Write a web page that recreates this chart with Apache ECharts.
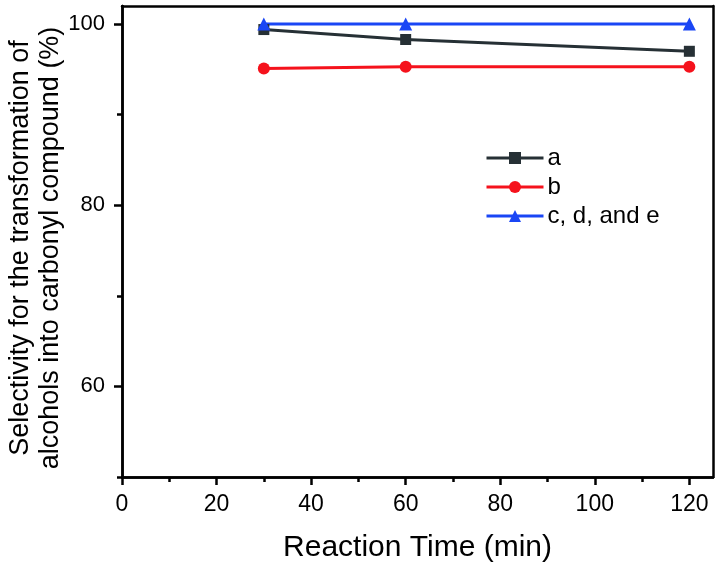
<!DOCTYPE html>
<html>
<head>
<meta charset="utf-8">
<script src="https://cdn.jsdelivr.net/npm/echarts@6/dist/echarts.min.js"></script>
<style>html,body{margin:0;padding:0;background:#fff}#c{width:720px;height:564px}</style>
</head>
<body>
<div id="c"></div>
<script>
const times = [30, 60, 120];
const seriesA = [99.4, 98.3, 97.0];
const seriesB = [95.1, 95.3, 95.3];
const seriesCDE = [100, 100, 100];
const seriesNames = ['a', 'b', 'c, d, and e'];
const xMajorTicks = [0, 20, 40, 60, 80, 100, 120];
const xMinorTicks = [10, 30, 50, 70, 90, 110];
const yMajorTicks = [60, 80, 100];
const yMinorTicks = [50, 70, 90];

const FONT = 'Liberation Sans, Arial, sans-serif';
const AXC = '#000';
const chart = echarts.init(document.getElementById('c'), null, {renderer: 'canvas'});

function pair(xs, ys) { return xs.map((x, i) => [x, ys[i]]); }

const xBase = {
  type: 'value', min: 0, max: 125,
  axisLine: {onZero: false, lineStyle: {color: AXC, width: 2.5}},
  splitLine: {show: false}
};
const yBase = {
  type: 'value', min: 50, max: 102,
  axisLine: {onZero: false, lineStyle: {color: AXC, width: 2.5}},
  splitLine: {show: false}
};

const option = {
  animation: false,
  backgroundColor: '#fff',
  grid: {left: 122, right: 7, top: 6, bottom: 87, show: false, containLabel: false, outerBoundsMode: 'none'},
  legend: {
    data: seriesNames,
    orient: 'vertical',
    left: 480, top: 141,
    itemWidth: 57, itemHeight: 15, itemGap: 5,
    lineStyle: {width: 3},
    textStyle: {fontFamily: FONT, fontSize: 24, color: '#000', padding: [0, 0, 0, -1]}
  },
  xAxis: [
    Object.assign({}, xBase, {
      position: 'bottom',
      axisTick: {show: true, length: 8, inside: false, lineStyle: {width: 2.5, color: AXC}, customValues: xMajorTicks},
      axisLabel: {show: true, margin: 16, fontFamily: FONT, fontSize: 23, color: '#000', customValues: xMajorTicks},
      name: 'Reaction Time (min)', nameLocation: 'middle', nameGap: 56,
      nameTextStyle: {fontFamily: FONT, fontSize: 30, color: '#000'}
    }),
    Object.assign({}, xBase, {
      position: 'bottom',
      axisTick: {show: true, length: 5, lineStyle: {width: 2.5, color: AXC}, customValues: xMinorTicks},
      axisLabel: {show: false}
    }),
    Object.assign({}, xBase, {
      position: 'top',
      axisTick: {show: false}, axisLabel: {show: false}
    })
  ],
  yAxis: [
    Object.assign({}, yBase, {
      position: 'left',
      axisTick: {show: true, length: 8, lineStyle: {width: 2.5, color: AXC}, customValues: yMajorTicks},
      axisLabel: {show: true, margin: 17, fontFamily: FONT, fontSize: 22, color: '#000', customValues: yMajorTicks}
    }),
    Object.assign({}, yBase, {
      position: 'left',
      axisTick: {show: true, length: 5, lineStyle: {width: 2.5, color: AXC}, customValues: yMinorTicks},
      axisLabel: {show: false}
    }),
    Object.assign({}, yBase, {
      position: 'right',
      axisTick: {show: false}, axisLabel: {show: false}
    })
  ],
  graphic: [
    {type: 'text', x: 21, y: 248, rotation: Math.PI / 2,
      style: {text: 'Selectivity for the transformation of', fontFamily: FONT, fontSize: 27, fill: '#000', align: 'center', verticalAlign: 'middle'}},
    {type: 'text', x: 51, y: 248, rotation: Math.PI / 2,
      style: {text: 'alcohols into carbonyl compound (%)', fontFamily: FONT, fontSize: 27, fill: '#000', align: 'center', verticalAlign: 'middle'}}
  ],
  series: [
    {name: seriesNames[0], type: 'line', data: pair(times, seriesA), symbol: 'rect', symbolSize: 11,
      lineStyle: {color: '#263035', width: 3}, itemStyle: {color: '#263035'}},
    {name: seriesNames[1], type: 'line', data: pair(times, seriesB), symbol: 'circle', symbolSize: 12,
      lineStyle: {color: '#F5121C', width: 3}, itemStyle: {color: '#F5121C'}},
    {name: seriesNames[2], type: 'line', data: pair(times, seriesCDE), symbol: 'triangle', symbolSize: 13,
      lineStyle: {color: '#1A46F5', width: 3}, itemStyle: {color: '#1A46F5'}}
  ]
};
chart.setOption(option);
</script>
</body>
</html>
